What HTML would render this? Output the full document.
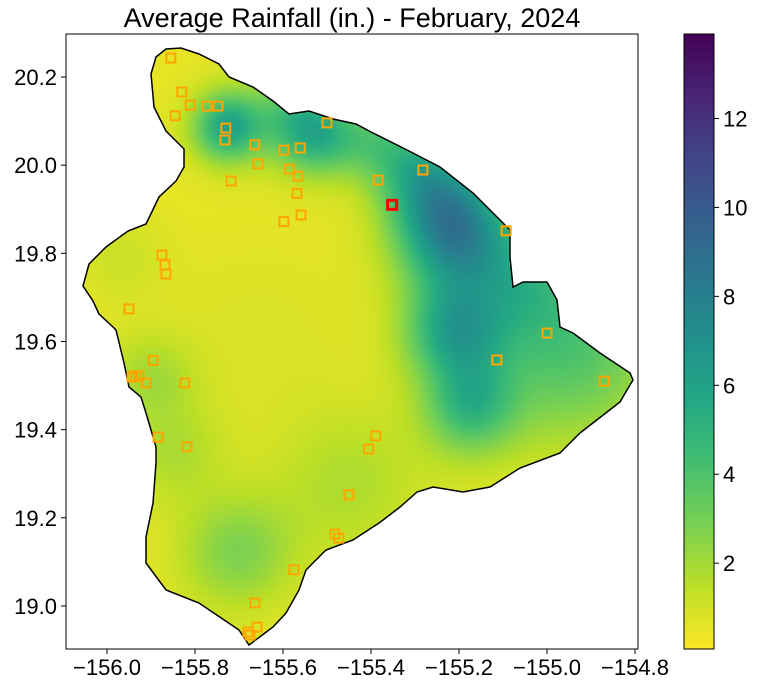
<!DOCTYPE html>
<html><head><meta charset="utf-8">
<style>
body{margin:0;background:#fff;width:758px;height:689px;overflow:hidden;position:relative;font-family:"Liberation Sans",sans-serif;}
#map{position:absolute;left:66px;top:34px;}
#ov{position:absolute;left:0;top:0;}
</style></head><body>
<canvas id="map" width="572" height="615"></canvas>
<svg id="ov" width="758" height="689"></svg>
<script>
// station coordinates
const stationLon=[-155.855,-155.830,-155.811,-155.845,-155.773,-155.748,-155.730,-155.732,-155.664,-155.657,-155.718,-155.598,-155.561,-155.586,-155.566,-155.568,-155.598,-155.559,-155.500,-155.384,-155.282,-155.093,-155.875,-155.868,-155.866,-155.950,-155.895,-155.936,-155.943,-155.927,-155.911,-155.823,-155.884,-155.818,-155.389,-155.405,-155.450,-155.482,-155.473,-155.575,-155.664,-155.659,-155.680,-155.675,-155.114,-155.000,-154.870];
const stationLat=[20.243,20.166,20.136,20.112,20.134,20.134,20.084,20.057,20.046,20.003,19.964,20.034,20.039,19.991,19.975,19.936,19.872,19.887,20.096,19.966,19.989,19.851,19.796,19.774,19.753,19.674,19.557,19.522,19.519,19.522,19.506,19.506,19.383,19.361,19.386,19.356,19.252,19.163,19.154,19.082,19.007,18.952,18.941,18.934,19.558,19.619,19.510];
const highlightLon=[-155.352];
const highlightLat=[19.910];
// rainfall field components (inches)
const blobLon=[-155.209,-155.243,-155.209,-155.175,-155.175,-155.310,-154.948,-155.050,-155.727,-155.570,-155.516,-155.705,-155.900,-155.970,-155.450,-155.850,-155.650,-155.400];
const blobLat=[19.842,19.944,19.626,19.467,19.430,20.000,19.581,19.740,20.088,20.110,20.060,19.123,19.520,19.790,19.280,19.350,19.600,20.060];
const blobAmp=[6.5,3,5,2.5,1.5,2.5,3.3,2.5,5.2,3.3,3,2.2,1.4,0.6,1.2,1.2,0.3,2];
const blobSig=[0.09,0.08,0.08,0.07,0.08,0.07,0.14,0.09,0.055,0.07,0.06,0.09,0.07,0.07,0.12,0.08,0.15,0.06];
const baseRain=0.55;
const cbTicks=[2,4,6,8,10,12];
const xTicks=[-156.0,-155.8,-155.6,-155.4,-155.2,-155.0,-154.8];
const yTicks=[19.0,19.2,19.4,19.6,19.8,20.0,20.2];
const vmin=0.07,vmax=13.9;

// coastline outline (pixel basemap)
const coast=[[156,57],[166,49],[181,48],[199,54],[219,64],[229,77],[253,87],[273,101],[289,114],[309,111],[333,119],[356,124],[373,133],[407,150],[440,167],[473,193],[497,217],[510,230],[510,257],[513,287],[523,282],[547,282],[557,300],[560,327],[573,333],[600,353],[630,373],[633,380],[627,390],[620,402],[580,433],[560,453],[520,468],[490,487],[463,492],[433,487],[417,492],[400,507],[387,517],[379,523],[353,540],[326,550],[306,570],[299,590],[286,613],[273,627],[249,645],[239,630],[199,603],[166,590],[146,563],[146,537],[153,503],[156,463],[156,447],[146,413],[141,397],[129,387],[124,363],[116,330],[113,327],[99,314],[93,301],[83,286],[89,264],[106,247],[128,231],[146,224],[159,197],[176,181],[184,167],[184,149],[166,131],[154,107],[151,74]];

const X0=107,XS=440,Y0=77,YS=440.8;
function xp(lon){return X0+(lon+156)*XS;}
function yp(lat){return Y0+(20.2-lat)*YS;}
const vir=[[68,1,84],[72,36,117],[65,68,135],[53,95,141],[42,120,142],[33,145,140],[34,168,132],[68,191,112],[122,209,81],[189,223,38],[253,231,37]];
function cmap(v){let t=1-(v-vmin)/(vmax-vmin);t=Math.max(0,Math.min(1,t));const f=t*10,i=Math.min(9,Math.floor(f)),r=f-i;const a=vir[i],b=vir[i+1];return [a[0]+(b[0]-a[0])*r,a[1]+(b[1]-a[1])*r,a[2]+(b[2]-a[2])*r];}

const cv=document.getElementById('map'),ctx=cv.getContext('2d');
const img=ctx.createImageData(572,615);
for(let py=0;py<615;py++){const lat=20.2-(py+34-Y0)/YS;for(let px=0;px<572;px++){const lon=-156+(px+66-X0)/XS;let v=baseRain;for(let k=0;k<blobLon.length;k++){const dx=lon-blobLon[k],dy=lat-blobLat[k];v+=blobAmp[k]*Math.exp(-(dx*dx+dy*dy)/(2*blobSig[k]*blobSig[k]));}const c=cmap(v);const o=(py*572+px)*4;img.data[o]=c[0];img.data[o+1]=c[1];img.data[o+2]=c[2];img.data[o+3]=255;}}
const tmp=document.createElement('canvas');tmp.width=572;tmp.height=615;tmp.getContext('2d').putImageData(img,0,0);
ctx.save();ctx.beginPath();coast.forEach((p,i)=>{i?ctx.lineTo(p[0]-66,p[1]-34):ctx.moveTo(p[0]-66,p[1]-34);});ctx.closePath();ctx.clip();ctx.drawImage(tmp,0,0);ctx.restore();

const NS='http://www.w3.org/2000/svg',svg=document.getElementById('ov');
function mk(t,a,parent){const e=document.createElementNS(NS,t);for(const k in a)e.setAttribute(k,a[k]);(parent||svg).appendChild(e);return e;}
let coastEl=mk('polygon',{points:coast.map(p=>p.join(',')).join(' '),fill:'none',stroke:'#000','stroke-width':1.5});


stationLon.forEach((lon,i)=>{const e=mk('rect',{x:xp(lon)-4.5,y:yp(stationLat[i])-4.5,width:9,height:9,fill:'none',stroke:'#ffa500','stroke-width':2});

});
highlightLon.forEach((lon,i)=>{const e=mk('rect',{x:xp(lon)-4.5,y:yp(highlightLat[i])-4.5,width:9,height:9,fill:'none',stroke:'#ff0000','stroke-width':3});

});
let frame=mk('rect',{x:66,y:34,width:572,height:615,fill:'none',stroke:'#000','stroke-width':1});


let title=mk('text',{x:352,y:27,'text-anchor':'middle','font-size':27});title.textContent='Average Rainfall (in.) - February, 2024';


xTicks.forEach(v=>{const x=xp(v);mk('line',{x1:x,x2:x,y1:649,y2:654,stroke:'#000'});const t=mk('text',{x:x,y:675,'text-anchor':'middle','font-size':22});t.textContent=v.toFixed(1).replace('-','\u2212');

});
yTicks.forEach(v=>{const y=yp(v);mk('line',{x1:61,x2:66,y1:y,y2:y,stroke:'#000'});const t=mk('text',{x:57,y:y+8,'text-anchor':'end','font-size':22});t.textContent=v.toFixed(1);

});
// colorbar
const defs=mk('defs',{});const g=mk('linearGradient',{id:'cb',x1:0,y1:1,x2:0,y2:0},defs);
for(let i=0;i<=20;i++){const v=vmin+(vmax-vmin)*i/20,c=cmap(v);mk('stop',{offset:i/20,'stop-color':`rgb(${c.map(Math.round).join(',')})`},g);}
let cb=mk('rect',{x:684,y:34,width:30,height:615,fill:'url(#cb)',stroke:'#000','stroke-width':1});


function cy(v){return 649-(v-vmin)/(vmax-vmin)*615;}
cbTicks.forEach(v=>{const y=cy(v);mk('line',{x1:714,x2:719,y1:y,y2:y,stroke:'#000'});const t=mk('text',{x:723,y:y+8,'font-size':22});t.textContent=v;

});
</script>
</body></html>
